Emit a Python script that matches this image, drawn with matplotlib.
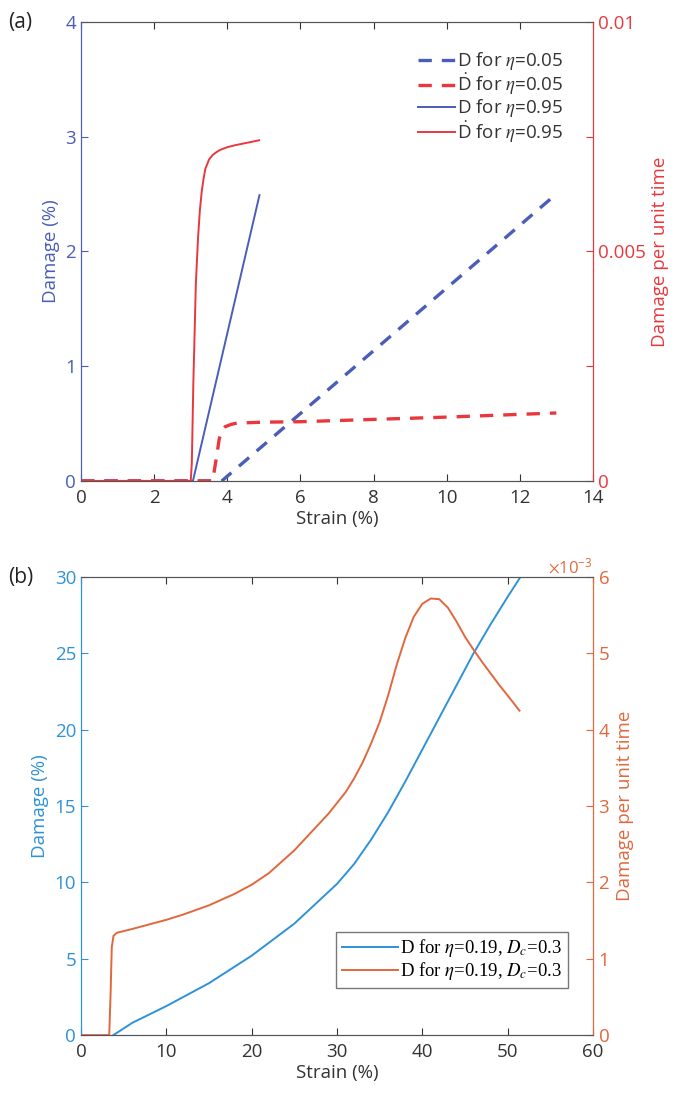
import numpy as np
import matplotlib
matplotlib.use("Agg")
import matplotlib.pyplot as plt
from matplotlib.ticker import ScalarFormatter

plt.rcParams['font.family'] = ['Open Sans', 'DejaVu Sans']
plt.rcParams['mathtext.fontset'] = 'stix'

# panel (a) data
a_x_d05 = [0, 3.85, 13.0]
a_y_d05 = [0, 0, 2.5]
a_x_rate05 = [0, 3.6, 3.66, 3.72, 3.78, 3.86, 3.94, 4.1, 4.26, 5, 6, 8, 10, 13.0]
a_y_rate05 = [0, 0, 0.0003, 0.0006, 0.00092, 0.00110, 0.00118, 0.00123, 0.00126, 0.00128, 0.00129, 0.00134, 0.00139, 0.00148]
a_x_d95 = [0, 3.06, 4.88]
a_y_d95 = [0, 0, 2.49]
a_x_rate95 = [0, 3.0, 3.03, 3.07, 3.14, 3.2, 3.25, 3.3, 3.35, 3.4, 3.5, 3.6, 3.7, 3.8, 4.0, 4.2, 4.5, 4.87]
a_y_rate95 = [0, 0, 0.0004, 0.0021, 0.0043, 0.0053, 0.0059, 0.0063, 0.00658, 0.0068, 0.00700, 0.00710,
              0.00716, 0.00721, 0.00727, 0.00731, 0.00736, 0.00742]

# panel (b) data
b_x_d = [3.8, 6, 10, 15, 20, 25, 30, 32, 34, 36, 38, 40, 42, 44, 46, 48, 50, 51.5]
b_y_d = [0, 0.8, 1.9, 3.4, 5.2, 7.3, 9.9, 11.2, 12.8, 14.6, 16.6, 18.7, 20.8, 22.9, 25.0, 26.9, 28.7, 30.0]
b_x_rate = [0, 3.3, 3.45, 3.6, 3.8, 4.2, 6, 8, 10, 12, 15, 18, 20, 22, 25, 27, 29, 31, 32, 33, 34, 35,
            36, 37, 38, 39, 40, 41, 42, 43, 44, 45, 46, 47, 48, 49, 50, 51.4]
b_y_rate = [0, 0, 0.5, 1.15, 1.3, 1.34, 1.39, 1.45, 1.51, 1.58, 1.70, 1.85, 1.97, 2.12, 2.42, 2.66, 2.90, 3.18, 3.36, 3.57, 3.82, 4.1,
            4.45, 4.85, 5.2, 5.48, 5.65, 5.72, 5.71, 5.6, 5.42, 5.22, 5.05, 4.89, 4.74, 4.59, 4.45, 4.25]
b_y_rate = [v * 1e-3 for v in b_y_rate]

blue_a = '#4a5db8'
red_a = '#e8383d'
blue_b = '#2f92d6'
orange_b = '#e0683c'
gray = '#333333'
fs = 13.5

fig = plt.figure(figsize=(6.87, 10.93), dpi=100)

# ---------- panel (a)
ax1 = fig.add_axes([0.118, 0.560, 0.745, 0.420])
ax2 = ax1.twinx()
l1, = ax1.plot(a_x_d05, a_y_d05, color=blue_a, lw=2.4, ls=(0, (4, 3)))
l3, = ax1.plot(a_x_d95, a_y_d95, color=blue_a, lw=1.4)
l2, = ax2.plot(a_x_rate05, a_y_rate05, color=red_a, lw=2.4, ls=(0, (4, 3)))
l4, = ax2.plot(a_x_rate95, a_y_rate95, color=red_a, lw=1.4)
ax1.set_xlim(0, 14)
ax1.set_ylim(0, 4)
ax2.set_ylim(0, 0.01)
ax1.set_xticks(range(0, 15, 2))
ax1.set_yticks(range(0, 5))
ax2.set_yticks([0, 0.0025, 0.005, 0.0075, 0.01])
ax2.set_yticklabels(['0', '', '0.005', '', '0.01'])
ax1.set_xlabel('Strain (%)', fontsize=fs, color=gray, labelpad=2)
ax1.set_ylabel('Damage (%)', fontsize=fs, color=blue_a)
ax2.set_ylabel('Damage per unit time', fontsize=fs, color=red_a)
ax1.legend([l1, l2, l3, l4],
           [r'D for $\eta$=0.05', r'$\dot{\mathregular{D}}$ for $\eta$=0.05',
            r'D for $\eta$=0.95', r'$\dot{\mathregular{D}}$ for $\eta$=0.95'],
           loc='upper right', bbox_to_anchor=(0.975, 0.975), frameon=False,
           fontsize=13.5, handlelength=2.0, handletextpad=0.1,
           labelspacing=0.0, labelcolor=gray)
fig.text(0.012, 0.979, '(a)', fontsize=15, va='center', color='#222222')

# ---------- panel (b)
bx1 = fig.add_axes([0.118, 0.053, 0.745, 0.419])
bx2 = bx1.twinx()
m1, = bx1.plot(b_x_d, b_y_d, color=blue_b, lw=1.4)
m2, = bx2.plot(b_x_rate, b_y_rate, color=orange_b, lw=1.4)
bx1.set_xlim(0, 60)
bx1.set_ylim(0, 30)
bx2.set_ylim(0, 0.006)
bx1.set_xticks(range(0, 61, 10))
bx1.set_yticks(range(0, 31, 5))
fmt = ScalarFormatter(useMathText=True)
fmt.set_powerlimits((-2, 2))
bx2.yaxis.set_major_formatter(fmt)
bx2.set_yticks([i * 1e-3 for i in range(7)])
bx2.yaxis.get_offset_text().set_color(orange_b)
bx2.yaxis.get_offset_text().set_fontsize(12)
bx1.set_xlabel('Strain (%)', fontsize=fs, color=gray, labelpad=2)
bx1.set_ylabel('Damage (%)', fontsize=fs, color=blue_b)
bx2.set_ylabel('Damage per unit time', fontsize=fs, color=orange_b)
leg = bx1.legend([m1, m2],
                 [r'D for $\eta$=0.19, $D_c$=0.3', r'D for $\eta$=0.19, $D_c$=0.3'],
                 loc='lower right', bbox_to_anchor=(0.958, 0.095),
                 prop={'family': 'Liberation Serif', 'size': 13.5},
                 handlelength=3.0, handletextpad=0.1, labelspacing=0.05,
                 fancybox=False, edgecolor='#555555', borderpad=0.3,
                 borderaxespad=0.2)
leg.get_frame().set_linewidth(1.0)
fig.text(0.012, 0.472, '(b)', fontsize=15, va='center', color='#222222')

for (a, b, cl, cr) in [(ax1, ax2, blue_a, red_a), (bx1, bx2, blue_b, orange_b)]:
    for ax in (a, b):
        ax.spines['top'].set_color('#555555')
        ax.spines['bottom'].set_color('#555555')
        ax.spines['left'].set_color(cl)
        ax.spines['right'].set_color(cr)
    a.tick_params(axis='x', colors=gray, labelsize=fs, direction='in', top=True, length=5, pad=6)
    a.tick_params(axis='y', colors=cl, labelsize=fs, direction='in', length=5)
    b.tick_params(axis='y', colors=cr, labelsize=fs, direction='in', length=5)

fig.savefig('out.png', dpi=100)
